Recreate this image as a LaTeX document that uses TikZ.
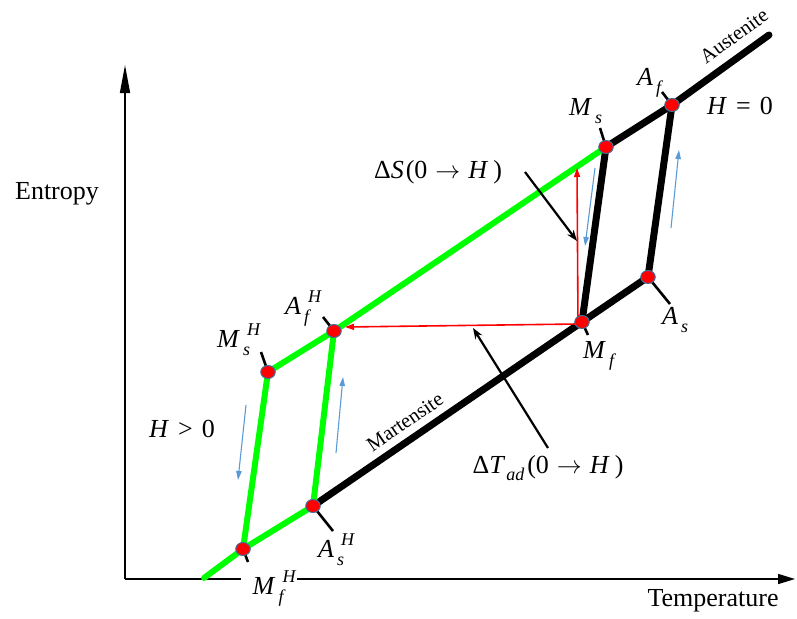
\documentclass[tikz,border=0pt]{standalone}
\usepackage{amsmath}
\usepackage{fontspec}
\setmainfont{Liberation Serif}
\usetikzlibrary{arrows.meta,shapes.geometric}
\definecolor{dotedge}{HTML}{41719C}
\definecolor{blu}{HTML}{5B9BD5}
\definecolor{grn}{HTML}{00FF00}
\newcommand{\subsz}{\fontsize{18}{20}\selectfont}
% letter with subscript (#2) and optional superscript (#3)
\newcommand{\tlab}[3]{\textit{#1}\kern3pt\rlap{\kern4pt\raisebox{12pt}{\subsz\textit{#3}}}\raisebox{-8pt}{\subsz\textit{#2}}}
\begin{document}
\begin{tikzpicture}[x=1pt,y=-1pt,
  blackline/.style={line width=7pt, black, line cap=round},
  greenline/.style={line width=6pt, grn, line cap=round},
  ticker/.style={line width=2.6pt, black},
  dot/.style={ellipse, fill=red, draw=dotedge, line width=1pt, minimum width=14.5pt, minimum height=13pt, inner sep=0pt},
  lab/.style={font=\fontsize{26}{30}\selectfont, inner sep=1pt},
  phase/.style={font=\fontsize{20.5}{24}\selectfont, inner sep=1pt},
  axis/.style={line width=1.5pt, black},
  redarrow/.style={line width=1.6pt, red, -{Triangle[length=9pt,width=6pt]}},
  bluearrow/.style={line width=1.1pt, blu, -{Triangle[length=9pt,width=5.5pt]}},
  callout/.style={line width=2.2pt, black, -{Stealth[length=11pt,width=8pt]}}
]
\useasboundingbox (0,0) rectangle (797,618);

% axes
\coordinate (O) at (125,579);
\coordinate (Ytip) at (125,65);
\coordinate (Xtip) at (795,579);
\draw[axis, -{Triangle[length=28pt,width=10pt]}] (O) -- (Ytip);
\draw[axis, -{Triangle[length=17pt,width=10pt]}] (O) -- (Xtip);

% key points
\coordinate (Gstart) at (204,578);
\coordinate (MfH) at (243,549);
\coordinate (AsH) at (313,506);
\coordinate (MsH) at (268,372);
\coordinate (AfH) at (334,331);
\coordinate (Mf) at (582,322);
\coordinate (As) at (648,277);
\coordinate (Ms) at (606,147);
\coordinate (Af) at (672,105);
\coordinate (Aend) at (769,35);

% phase lines
\draw[blackline] (AsH) -- (Mf) -- (As);
\draw[blackline] (Ms) -- (Af) -- (Aend);
\draw[blackline] (Mf) -- (Ms);
\draw[blackline] (As) -- (Af);
\draw[greenline] (Gstart) -- (MfH) -- (AsH);
\draw[greenline] (MsH) -- (AfH) -- (Ms);
\draw[greenline] (MfH) -- (MsH);
\draw[greenline] (AsH) -- (AfH);

% ticks
\coordinate (tAf) at (662,92);
\coordinate (tMs) at (600,128);
\coordinate (tMf) at (588,335);
\coordinate (tAs) at (670,304);
\coordinate (tAfH) at (323,317);
\coordinate (tMsH) at (261,352);
\coordinate (tAsH) at (333,531);
\coordinate (tMfH) at (248,562);
\draw[ticker] (Af) -- (tAf);
\draw[ticker] (Ms) -- (tMs);
\draw[ticker] (Mf) -- (tMf);
\draw[ticker] (As) -- (tAs);
\draw[ticker] (AfH) -- (tAfH);
\draw[ticker] (MsH) -- (tMsH);
\draw[ticker] (AsH) -- (tAsH);
\draw[ticker] (MfH) -- (tMfH);

% red arrows
\coordinate (Rc) at (578,324);
\coordinate (Rtop) at (577,168);
\coordinate (Rleft) at (345,327);
\draw[redarrow] (Rc) -- (Rleft);
\draw[redarrow] (Rc) -- (Rtop);

% dots
\node[dot] (dMfH) at (MfH) {};
\node[dot] (dAsH) at (AsH) {};
\node[dot] (dMsH) at (MsH) {};
\node[dot] (dAfH) at (AfH) {};
\node[dot] (dMf) at (Mf) {};
\node[dot] (dAs) at (As) {};
\node[dot] (dMs) at (Ms) {};
\node[dot] (dAf) at (Af) {};

% blue arrows
\coordinate (b1s) at (246,405); \coordinate (b1e) at (238,480);
\coordinate (b2s) at (336,453); \coordinate (b2e) at (343,377);
\coordinate (b3s) at (595,168); \coordinate (b3e) at (585,246);
\coordinate (b4s) at (671,228); \coordinate (b4e) at (679,150);
\draw[bluearrow] (b1s) -- (b1e);
\draw[bluearrow] (b2s) -- (b2e);
\draw[bluearrow] (b3s) -- (b3e);
\draw[bluearrow] (b4s) -- (b4e);

% labels
\node[lab, anchor=base west] (lAf) at (636,85) {\tlab{A}{f}{}};
\node[lab, anchor=base west] (lMs) at (568,115) {\tlab{M}{s}{}};
\node[lab] (lH0) at (740,106) {\textit{H}\kern9pt=\kern9pt0};
\node[lab, anchor=base west] (lMf) at (582,358) {\tlab{M}{f}{}};
\node[lab, anchor=base west] (lAs) at (661,324) {\tlab{A}{s}{}};
\node[lab, anchor=base west] (lAfH) at (284,314) {\tlab{A}{f}{H}};
\node[lab, anchor=base west] (lMsH) at (216,347) {\tlab{M}{s}{H}};
\node[lab, anchor=base west] (lAsH) at (317,557) {\tlab{A}{s}{H}};
\node[lab, fill=white, anchor=base west, inner xsep=3pt, minimum width=56pt, align=left] (lMfH) at (241,594) {\tlab{M}{f}{H}\hfill};
\node[lab] (lHg) at (182,429) {\textit{H}\kern9pt>\kern9pt0};
\node[lab] (lEnt) at (57,194) {Entropy};
\node[lab] (lTemp) at (713,601) {Temperature};
\node[lab] (lDS) at (438,172) {Δ\textit{S}\kern2pt(0\kern8pt$\to$\kern8pt\textit{H}\kern5pt)};
\node[lab] (lDT) at (548,468) {Δ\textit{T}\kern1pt\raisebox{-7pt}{\subsz\textit{ad}}\kern3pt(0\kern8pt$\to$\kern8pt\textit{H}\kern5pt)};
\node[phase, rotate=34.4] (lMart) at (405,422) {Martensite};
\node[phase, rotate=36] (lAust) at (734,36) {Austenite};

% callouts
\coordinate (cSs) at (525,172); \coordinate (cSe) at (577,241);
\coordinate (cTs) at (548,448); \coordinate (cTe) at (473,328);
\draw[callout] (cSs) -- (cSe);
\draw[callout] (cTs) -- (cTe);
\end{tikzpicture}
\end{document}
